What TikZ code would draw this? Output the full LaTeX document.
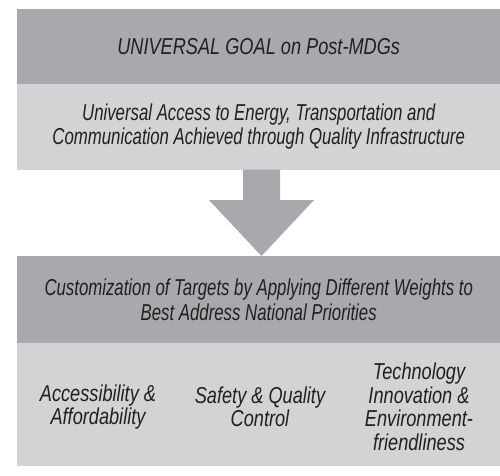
\documentclass[tikz,border=0pt]{standalone}
\usepackage{fontspec}
\setmainfont{Liberation Sans}[FakeStretch=0.79]
\newfontfamily\narrowfont{Liberation Sans}[FakeStretch=0.73]
\definecolor{darkgray}{HTML}{A7A9AC}
\definecolor{lightgray}{HTML}{D1D3D4}
\definecolor{inkgray}{HTML}{231F20}
\begin{document}
\begin{tikzpicture}[x=1pt,y=-1pt,
  band/.style={rectangle, inner sep=0pt, minimum width=483pt, anchor=north west,
    text=inkgray, font=\fontsize{23}{24.5}\selectfont\itshape, align=center},
  narrowtext/.style={font=\narrowfont\fontsize{23}{24.5}\selectfont\itshape},
  pillar/.style={inner sep=0pt, text=inkgray, font=\fontsize{23}{23.5}\selectfont\itshape, align=center}]
\useasboundingbox (0,0) rectangle (500,475);
\node[band, fill=darkgray, minimum height=74.5pt] (goal) at (17,9) {UNIVERSAL GOAL on Post-MDGs};
\node[band, narrowtext, fill=lightgray, minimum height=86pt] (access) at (17,83.5)
  {Universal Access to Energy, Transportation and\\Communication Achieved through Quality Infrastructure};
\node[band, narrowtext, fill=darkgray, minimum height=87pt] (custom) at (17,256)
  {Customization of Targets by Applying Different Weights to\\Best Address National Priorities};
\node[band, fill=lightgray, minimum height=123pt] (pillars) at (17,343) {};
\node[pillar] (p1) at (98,407) {Accessibility \&\\Affordability};
\node[pillar] (p2) at (260,407) {Safety \& Quality\\Control};
\node[pillar] (p3) at (419,407) {Technology\\Innovation \&\\Environment-\\friendliness};
\coordinate (tip) at (261.5,256);
\fill[darkgray] (243,169.5) -- (280,169.5) -- (280,200) -- (314,200) -- (tip)
  -- (209,200) -- (243,200) -- cycle;
\end{tikzpicture}
\end{document}
